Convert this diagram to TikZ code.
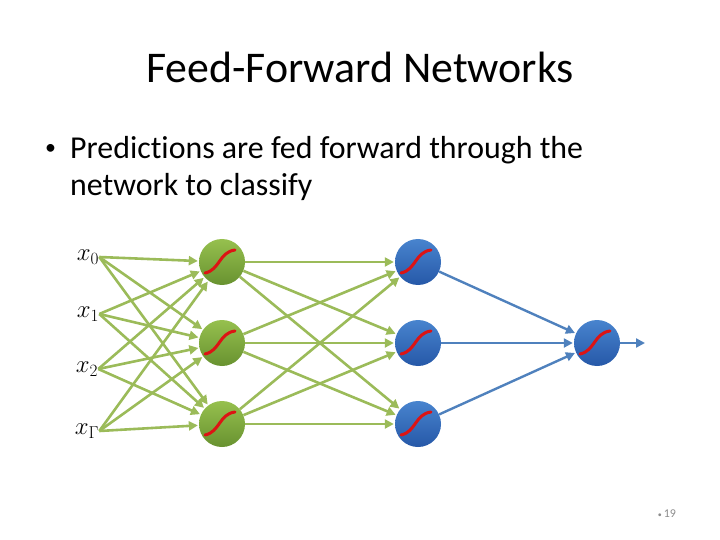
\documentclass[tikz,border=0pt]{standalone}
\usepackage{fontspec}
\setmainfont{Carlito}[Ligatures=NoCommon]
\usetikzlibrary{arrows.meta,positioning}
\definecolor{cGArr}{RGB}{155,187,89}
\definecolor{cBArr}{RGB}{79,129,189}
\definecolor{cGTop}{RGB}{150,192,78}
\definecolor{cGBot}{RGB}{104,146,48}
\definecolor{cBTop}{RGB}{72,132,206}
\definecolor{cBBot}{RGB}{38,88,168}
\definecolor{cSig}{RGB}{220,20,20}
\definecolor{cNum}{RGB}{140,140,140}

\begin{document}
\begin{tikzpicture}[x=1bp,y=-1bp,
   gn/.style={circle,minimum size=46bp,inner sep=0pt,top color=cGTop,bottom color=cGBot},
   bn/.style={circle,minimum size=46bp,inner sep=0pt,top color=cBTop,bottom color=cBBot},
   lab/.style={inner sep=0pt,font=\fontsize{27}{28}\selectfont},
   ga/.style={-{Triangle[length=9bp,width=9bp]},line width=2.6bp,cGArr,shorten >=1bp},
   ba/.style={-{Triangle[length=9bp,width=9bp]},line width=2.4bp,cBArr,shorten >=1bp},
   sig/.style={cSig,line width=3bp,line cap=round}]
  \useasboundingbox (0,0) rectangle (720,540);
  % title and bullet text
  \node[anchor=base,inner sep=0pt,font=\fontsize{44}{48}\selectfont] (title) at (360,83) {Feed-Forward Networks};
  \node[anchor=base west,inner sep=0pt,font=\fontsize{22}{24}\selectfont] (bul) at (45,155) {•};
  \node[anchor=north west,inner sep=0pt,align=left,font=\fontsize{32}{37}\selectfont] (txt) at (70,136)
     {Predictions are fed forward through the\\network to classify};
  % inputs
  \node[lab] (x0) at (88,257) {$x_0$};
  \node[lab] (x1) at (88,314) {$x_1$};
  \node[lab] (x2) at (87,369) {$x_2$};
  \node[lab] (x3) at (87,431) {$x_\Gamma$};
  % layers
  \node[gn] (g1) at (222,262) {};
  \node[gn] (g2) at (222,343) {};
  \node[gn] (g3) at (222,424) {};
  \node[bn] (b1) at (418,262) {};
  \node[bn] (b2) at (418,343) {};
  \node[bn] (b3) at (418,424) {};
  \node[bn] (out) at (597,343) {};
  \coordinate (end) at (646,343);
  % connectors
  \foreach \i in {x0,x1,x2,x3}
    \foreach \j in {g1,g2,g3}
      \draw[ga] (\i.east) -- (\j);
  \foreach \i in {g1,g2,g3}
    \foreach \j in {b1,b2,b3}
      \draw[ga] (\i) -- (\j);
  \foreach \i in {b1,b2,b3}
    \draw[ba] (\i) -- (out);
  \draw[ba] (out) -- (end);
  % sigmoids
  \foreach \n in {g1,g2,g3,b1,b2,b3,out}
    \draw[sig,shift={(\n)}] (-17,11) .. controls (-2,8) and (-3,-10) .. (13,-12);
  % page number
  \node[cNum,font=\fontsize{12}{14}\selectfont] (num) at (667,514) {{\fontsize{8}{8}\selectfont •}\,19};
\end{tikzpicture}
\end{document}
